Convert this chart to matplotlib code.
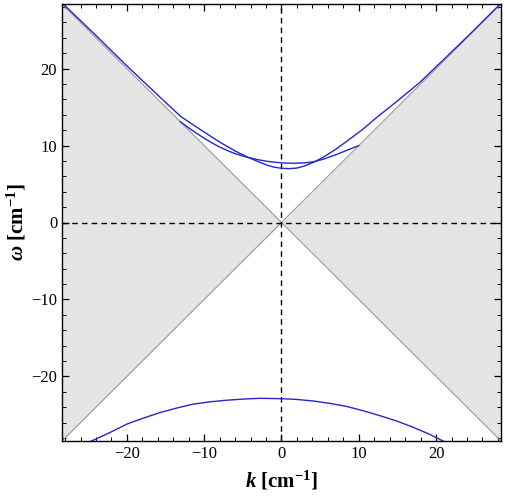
import numpy as np
import matplotlib
matplotlib.use("Agg")
import matplotlib.pyplot as plt
from matplotlib.ticker import MultipleLocator

plt.rcParams['font.family'] = 'Liberation Serif'
plt.rcParams['mathtext.fontset'] = 'custom'
plt.rcParams['mathtext.rm'] = 'Liberation Serif:bold'
plt.rcParams['mathtext.it'] = 'Liberation Serif:bold:italic'
plt.rcParams['mathtext.bf'] = 'Liberation Serif:bold'

LIM = 28.4

# upper branch spanning the whole window
k_upper = [-28.6, -24, -20, -16, -13, -11.8, -10, -8, -6, -4.5, -3, -2, -1,
           0, 1, 2, 3, 4.2, 5.5, 7, 8.5, 10.5, 12.5, 15, 18, 21, 24.5, 28.6]
w_upper = [28.75, 24.3, 20.35, 16.55, 13.75, 12.95, 11.75, 10.45, 9.3, 8.55, 7.9, 7.5, 7.2,
           7.05, 7.0, 7.08, 7.35, 7.85, 8.55, 9.5, 10.6, 12.1, 13.8, 15.8, 18.3, 21.2, 24.6, 28.7]

# short branch ending on the light cone
k_short = [-13.1, -12, -11, -10, -9, -8, -7, -6, -4.5, -3, -1.5, 0, 1.5, 3, 4.2,
           5.5, 7, 8.5, 10.0]
w_short = [13.1, 12.3, 11.6, 10.95, 10.35, 9.8, 9.35, 8.95, 8.5, 8.15, 7.9, 7.75, 7.7,
           7.75, 7.9, 8.25, 8.8, 9.4, 10.0]

# lower branch
k_lower = [-25.6, -24.8, -22.2, -20.0, -17.8, -15.7, -13.5, -11.4, -9.2, -7.1, -4.9,
           -2.8, 0, 2.0, 4.1, 6.2, 8.4, 10.5, 12.7, 14.9, 17.0, 19.1, 21.1, 21.8]
w_lower = [-29.0, -28.5, -27.3, -26.2, -25.4, -24.7, -24.1, -23.6, -23.3, -23.1, -22.95,
           -22.85, -22.9, -23.0, -23.2, -23.5, -23.9, -24.45, -25.1, -25.8, -26.6, -27.5,
           -28.5, -28.9]

fig = plt.figure(figsize=(5.06, 4.96), dpi=100)
ax = fig.add_axes([62 / 506, 1 - 441 / 496, 439 / 506, 437 / 496])

# region |w| < |k|
kk = np.array([-LIM - 1, 0, LIM + 1])
ax.fill_between(kk, -np.abs(kk), np.abs(kk), color='#e5e5e5', lw=0)
ax.plot(kk, kk, color='#9a9a9a', lw=0.8)
ax.plot(kk, -kk, color='#9a9a9a', lw=0.8)

ax.axhline(0, color='black', ls=(0, (4, 3)), lw=1)
ax.axvline(0, color='black', ls=(0, (4, 3)), lw=1)

blue = '#2626cc'
ax.plot(k_upper, w_upper, color=blue, lw=1)
ax.plot(k_short, w_short, color=blue, lw=1)
ax.plot(k_lower, w_lower, color=blue, lw=1)

ax.set_xlim(-LIM, LIM)
ax.set_ylim(-LIM, LIM)
ax.xaxis.set_major_locator(MultipleLocator(10))
ax.xaxis.set_minor_locator(MultipleLocator(2))
ax.yaxis.set_major_locator(MultipleLocator(10))
ax.yaxis.set_minor_locator(MultipleLocator(2))
ax.tick_params(which='both', direction='in', top=True, right=True, labelsize=12)
ax.tick_params(which='major', length=5, width=0.9)
ax.tick_params(which='minor', length=3, width=0.7)
for s in ax.spines.values():
    s.set_linewidth(1)

ax.set_xlabel(r'$k$ [cm$^{\mathbf{-1}}$]', fontsize=15, fontweight='bold', labelpad=5)
ax.set_ylabel(r'$\omega$ [cm$^{\mathbf{-1}}$]', fontsize=15, fontweight='bold', labelpad=2)

fig.savefig('out.png', dpi=100)
